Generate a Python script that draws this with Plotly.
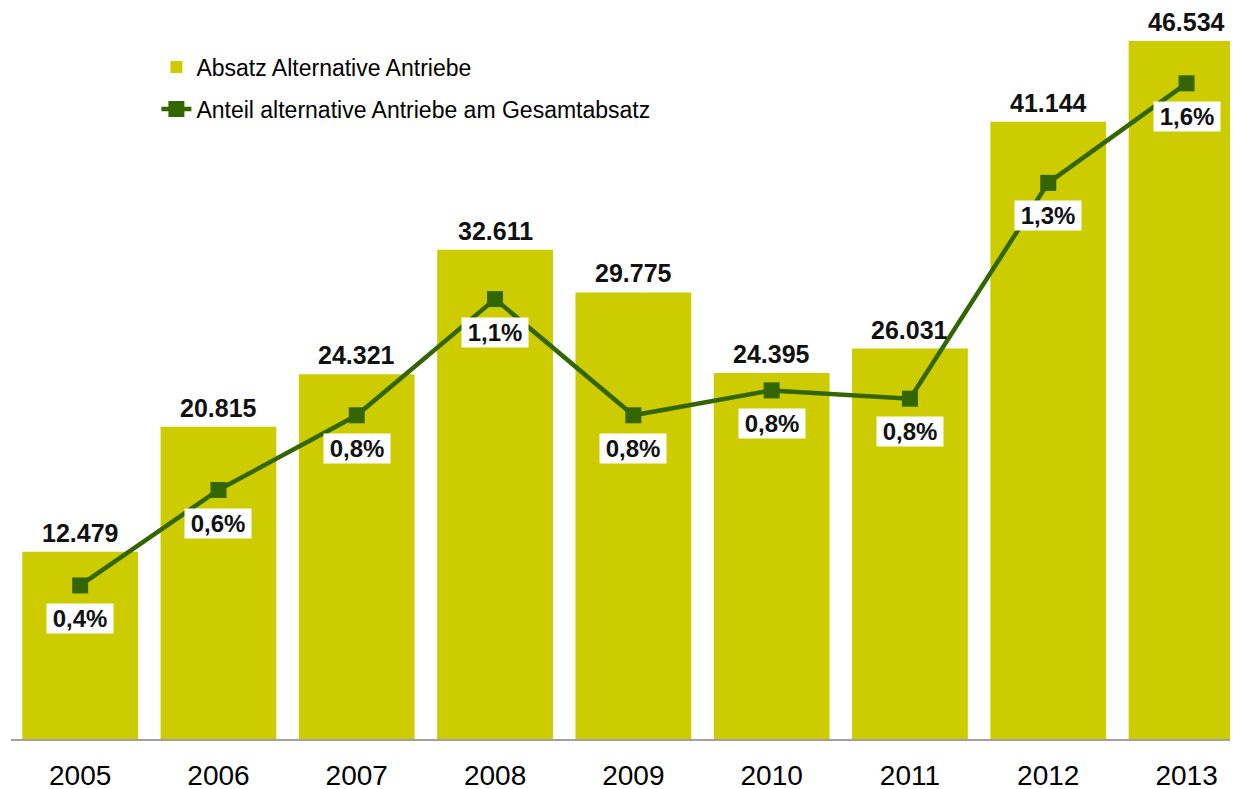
import plotly.graph_objects as go

years = ["2005", "2006", "2007", "2008", "2009", "2010", "2011", "2012", "2013"]
absatz = [12479, 20815, 24321, 32611, 29775, 24395, 26031, 41144, 46534]
anteil = [0.37, 0.60, 0.78, 1.06, 0.78, 0.84, 0.82, 1.34, 1.58]

bar_name = "Absatz Alternative Antriebe"
line_name = "Anteil alternative Antriebe am Gesamtabsatz"

BAR_COLOR = "#CCCC00"
LINE_COLOR = "#336600"
FONT = "Liberation Sans, Arial, sans-serif"

fig = go.Figure()
fig.add_trace(go.Bar(
    x=years, y=absatz, name=bar_name, marker=dict(color=BAR_COLOR, line=dict(width=0)),
    legendgroup="a", hoverinfo="skip",
))
fig.add_trace(go.Scatter(
    x=years, y=anteil, name=line_name, yaxis="y2", mode="lines+markers",
    line=dict(color=LINE_COLOR, width=4.5),
    marker=dict(symbol="square", size=16, color=LINE_COLOR),
    legendgroup="b", hoverinfo="skip",
))

annotations = []
for i, v in enumerate(absatz):
    annotations.append(dict(
        x=i, y=v, xref="x", yref="y", text="<b>" + f"{v:,}".replace(",", ".") + "</b>",
        showarrow=False, yanchor="middle", yshift=19,
        font=dict(family=FONT, size=25, color="#111111"),
    ))
for i, v in enumerate(anteil):
    annotations.append(dict(
        x=i, y=v, xref="x", yref="y2", text="<b>" + f"{v:.1f}".replace(".", ",") + "%</b>",
        showarrow=False, yanchor="middle", yshift=-33, bgcolor="white",
        width=66, height=29, borderpad=0,
        font=dict(family=FONT, size=24, color="#111111"),
    ))

fig.update_layout(
    width=1230, height=781,
    margin=dict(l=3, r=0, t=2, b=50, autoexpand=False),
    paper_bgcolor="white", plot_bgcolor="white",
    bargap=0.163,
    showlegend=True,
    legend=dict(
        x=0.1185, y=0.9512, xanchor="left", yanchor="top",
        font=dict(family=FONT, size=23, color="#000000"),
        bgcolor="rgba(0,0,0,0)", traceorder="grouped", tracegroupgap=9,
        itemwidth=30,
    ),
    xaxis=dict(
        type="category", range=[-0.5, 8.372], showgrid=False, zeroline=False,
        showline=True, linecolor="#a0a0a0", linewidth=1.5, ticks="",
        tickfont=dict(family=FONT, size=28, color="#000000"),
        ticklabelstandoff=11, automargin=False,
    ),
    yaxis=dict(range=[0, 48600], showticklabels=False, showline=False,
               showgrid=False, zeroline=False, ticks="", automargin=False),
    yaxis2=dict(range=[0, 729 / 415], overlaying="y", side="right",
                showticklabels=False, showline=False, automargin=False,
                showgrid=False, zeroline=False, ticks=""),
    annotations=annotations,
)

fig.write_html("out.html")
